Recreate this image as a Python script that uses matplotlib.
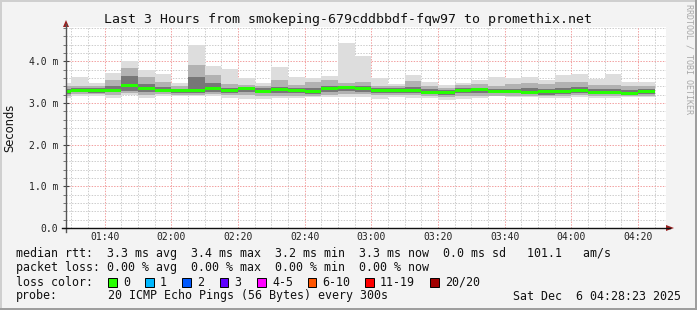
import matplotlib
matplotlib.use("Agg")
import matplotlib.pyplot as plt
from matplotlib.patches import Rectangle, Polygon
from matplotlib.lines import Line2D
import numpy as np

W, H = 697, 310

# ---------------- data ----------------
bar_start = ["01:25", "01:30", "01:35", "01:40", "01:45", "01:50", "01:55", "02:00",
             "02:05", "02:10", "02:15", "02:20", "02:25", "02:30", "02:35", "02:40",
             "02:45", "02:50", "02:55", "03:00", "03:05", "03:10", "03:15", "03:20",
             "03:25", "03:30", "03:35", "03:40", "03:45", "03:50", "03:55", "04:00",
             "04:05", "04:10", "04:15", "04:20"]
median = [3.27, 3.31, 3.30, 3.31, 3.41, 3.34, 3.30, 3.29, 3.29, 3.34, 3.31, 3.34,
          3.28, 3.32, 3.31, 3.27, 3.34, 3.37, 3.34, 3.31, 3.29, 3.29, 3.26, 3.25,
          3.31, 3.32, 3.28, 3.28, 3.26, 3.27, 3.28, 3.29, 3.26, 3.25, 3.23, 3.27]
smoke_max = [3.47, 3.62, 3.47, 3.72, 4.02, 3.80, 3.69, 3.47, 4.40, 3.88, 3.81, 3.60,
             3.49, 3.86, 3.62, 3.60, 3.65, 4.43, 4.12, 3.60, 3.45, 3.67, 3.51, 3.43,
             3.49, 3.55, 3.62, 3.59, 3.62, 3.55, 3.67, 3.69, 3.57, 3.69, 3.51, 3.51]
smoke_hi2 = [3.40, 3.42, 3.42, 3.55, 3.85, 3.63, 3.50, 3.40, 3.92, 3.68, 3.45, 3.43,
             3.40, 3.55, 3.43, 3.50, 3.55, 3.49, 3.50, 3.42, 3.41, 3.52, 3.42, 3.37,
             3.43, 3.45, 3.40, 3.45, 3.48, 3.45, 3.50, 3.50, 3.43, 3.43, 3.40, 3.40]
smoke_hi3 = [3.34, 3.36, 3.35, 3.40, 3.65, 3.45, 3.38, 3.34, 3.63, 3.47, 3.37, 3.38,
             3.35, 3.39, 3.37, 3.36, 3.40, 3.42, 3.40, 3.36, 3.35, 3.38, 3.34, 3.32,
             3.37, 3.37, 3.34, 3.34, 3.35, 3.33, 3.35, 3.38, 3.33, 3.33, 3.31, 3.34]
smoke_lo3 = [3.22, 3.26, 3.25, 3.26, 3.30, 3.27, 3.26, 3.25, 3.25, 3.27, 3.25, 3.27,
             3.23, 3.24, 3.24, 3.22, 3.26, 3.30, 3.27, 3.25, 3.24, 3.24, 3.21, 3.20,
             3.25, 3.24, 3.23, 3.23, 3.22, 3.20, 3.22, 3.24, 3.22, 3.21, 3.20, 3.22]
smoke_lo2 = [3.18, 3.21, 3.21, 3.20, 3.24, 3.20, 3.21, 3.20, 3.20, 3.22, 3.19, 3.20,
             3.17, 3.18, 3.18, 3.17, 3.20, 3.22, 3.21, 3.19, 3.19, 3.19, 3.17, 3.14,
             3.18, 3.18, 3.18, 3.18, 3.17, 3.16, 3.17, 3.19, 3.17, 3.17, 3.16, 3.17]
smoke_min = [3.12, 3.16, 3.17, 3.13, 3.19, 3.13, 3.16, 3.17, 3.16, 3.16, 3.12, 3.10,
             3.10, 3.12, 3.12, 3.14, 3.14, 3.14, 3.14, 3.10, 3.14, 3.12, 3.13, 3.08,
             3.10, 3.12, 3.16, 3.15, 3.14, 3.13, 3.12, 3.14, 3.12, 3.13, 3.14, 3.14]

x_ticklabels = ["01:40", "02:00", "02:20", "02:40", "03:00", "03:20", "03:40", "04:00", "04:20"]
y_ticklabels = ["0.0", "1.0 m", "2.0 m", "3.0 m", "4.0 m"]
y_ticks = [0.0, 1.0, 2.0, 3.0, 4.0]

loss_labels = ["0", "1", "2", "3", "4-5", "6-10", "11-19", "20/20"]
loss_colors = ["#26ff00", "#00b8ff", "#0059ff", "#5e00ff", "#ff00ff", "#ff5500", "#ff0000", "#a10000"]

title = "Last 3 Hours from smokeping-679cddbbdf-fqw97 to promethix.net"
line_rtt = "median rtt:  3.3 ms avg  3.4 ms max  3.2 ms min  3.3 ms now  0.0 ms sd   101.1   am/s"
line_loss = "packet loss: 0.00 % avg  0.00 % max  0.00 % min  0.00 % now"
probe_text = "20 ICMP Echo Pings (56 Bytes) every 300s"
date_text = "Sat Dec  6 04:28:23 2025"

# ---------------- helpers ----------------
def tmin(s):
    h, m = s.split(":")
    return int(h) * 60 + int(m)

def px(x, y):
    return (x / W, 1 - y / H)

x0 = np.array([tmin(s) for s in bar_start], dtype=float)
t_end = 4 * 60 + 28 + 23 / 60
t_beg = t_end - 180

MONO = "DejaVu Sans Mono"

fig = plt.figure(figsize=(W / 100, H / 100), dpi=100, facecolor="#f3f3f3")

# 3D border
for (xa, ya, xb, yb, c) in [(0, 0, 2, H, "#cfcfcf"), (0, 0, W, 2, "#cfcfcf"),
                            (W - 2, 0, W, H, "#9e9e9e"), (0, H - 2, W, H, "#9e9e9e")]:
    fig.add_artist(Rectangle((xa / W, 1 - yb / H), (xb - xa) / W, (yb - ya) / H,
                             transform=fig.transFigure, facecolor=c, edgecolor="none"))

ax = fig.add_axes([66 / W, 1 - 228 / H, 600 / W, 201 / H])
ax.set_facecolor("white")
ax.set_xlim(t_beg, t_end)
ax.set_ylim(0, 4.824)

# grid
for v in np.arange(90, 270, 5):
    if v % 20 != 0:
        ax.axvline(v, color="#cccccc", lw=0.72, ls=(0, (1.4, 1.4)), zorder=1)
for v in np.arange(0.2, 4.85, 0.2):
    if abs(v - round(v)) > 1e-6:
        ax.axhline(v, color="#cccccc", lw=0.72, ls=(0, (1.4, 1.4)), zorder=1)
for v in np.arange(100, 270, 20):
    ax.axvline(v, color="#f2a0a0", lw=0.72, ls=(0, (1.4, 1.4)), zorder=1.5)
for v in y_ticks[1:]:
    ax.axhline(v, color="#f2a0a0", lw=0.72, ls=(0, (1.4, 1.4)), zorder=1.5)

# smoke
lo_hi = [(smoke_min, smoke_max, "#dddddd"),
         (smoke_lo2, smoke_hi2, "#b2b2b2"),
         (smoke_lo3, smoke_hi3, "#777777")]
for lo, hi, c in lo_hi:
    lo = np.array(lo); hi = np.array(hi)
    ax.bar(x0, hi - lo, bottom=lo, width=5, align="edge", color=c, lw=0, zorder=2)

med = np.array(median)
ax.bar(x0, 0.075, bottom=med - 0.0375, width=5, align="edge", color=loss_colors[0],
       lw=0, zorder=3)

for s in ax.spines.values():
    s.set_visible(False)

ax.set_xticks([tmin(s) for s in x_ticklabels])
ax.set_xticklabels(x_ticklabels, fontfamily=MONO, fontsize=7, color="#222222")
ax.set_yticks(y_ticks)
ax.set_yticklabels(y_ticklabels, fontfamily=MONO, fontsize=7, color="#222222")
ax.set_yticks(np.arange(0, 4.85, 0.2), minor=True)
ax.tick_params(axis="x", which="both", length=0, pad=3)
ax.tick_params(axis="y", which="major", length=5, direction="inout", color="#444444", width=0.8, pad=3)
ax.tick_params(axis="y", which="minor", length=2.5, direction="out", color="#777777", width=0.7)

# axes lines and arrows
fig.add_artist(Line2D([px(66, 0)[0], px(66, 0)[0]], [px(0, 232)[1], px(0, 24)[1]],
                      transform=fig.transFigure, color="#555555", lw=1.0))
fig.add_artist(Line2D([px(62, 0)[0], px(670, 0)[0]], [px(0, 228)[1], px(0, 228)[1]],
                      transform=fig.transFigure, color="#111111", lw=1.0))
fig.add_artist(Polygon([px(666, 225), px(674, 228), px(666, 231)], closed=True,
                       transform=fig.transFigure, facecolor="#9a1f1f", edgecolor="none"))
fig.add_artist(Polygon([px(63, 27), px(66, 20), px(69, 27)], closed=True,
                       transform=fig.transFigure, facecolor="#9a1f1f", edgecolor="none"))

# texts
fig.text(*px(348, 19), title, fontfamily=MONO, fontsize=9.5, ha="center", va="center", color="#111111")
fig.text(*px(10, 128), "Seconds", fontfamily="DejaVu Sans", fontsize=8.3, rotation=90,
         ha="center", va="center", color="#111111")
fig.text(*px(689, 4), "RRDTOOL / TOBI OETIKER", fontfamily=MONO, fontsize=6, rotation=270,
         ha="center", va="top", color="#a8a8a8")

fs = 8.4
fig.text(*px(16, 254), line_rtt, fontfamily=MONO, fontsize=fs, ha="left", va="center", color="#111111")
fig.text(*px(16, 268), line_loss, fontfamily=MONO, fontsize=fs, ha="left", va="center", color="#111111")
fig.text(*px(16, 282), "loss color:", fontfamily=MONO, fontsize=fs, ha="left", va="center", color="#111111")
box_x = [108, 145, 182, 219.5, 257, 307.5, 365, 430]
for bx, lab, c in zip(box_x, loss_labels, loss_colors):
    fig.add_artist(Rectangle(px(bx, 286.5), 8.5 / W, 8.5 / H, transform=fig.transFigure,
                             facecolor=c, edgecolor="#000000", lw=0.7))
    fig.text(*px(bx + 15, 282), lab, fontfamily=MONO, fontsize=fs, ha="left", va="center", color="#111111")
fig.text(*px(16, 296), "probe:", fontfamily=MONO, fontsize=fs, ha="left", va="center", color="#111111")
fig.text(*px(108, 296), probe_text, fontfamily=MONO, fontsize=fs, ha="left", va="center", color="#111111")
fig.text(*px(681, 296), date_text, fontfamily=MONO, fontsize=fs, ha="right", va="center", color="#111111")

fig.savefig("out.png", dpi=100, facecolor=fig.get_facecolor())
